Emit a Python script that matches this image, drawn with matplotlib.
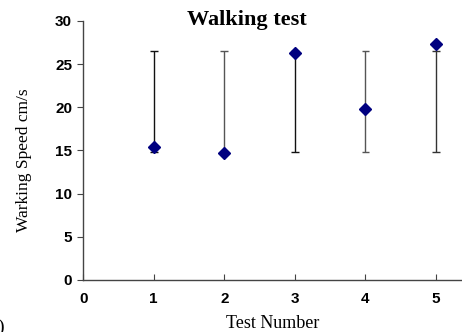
import matplotlib
matplotlib.use("Agg")
import matplotlib.pyplot as plt

# ----------------------------
# Data
# ----------------------------
tests = [1, 2, 3, 4, 5]
speed = [15.4, 14.7, 26.3, 19.8, 27.3]
range_low = [14.8, 14.8, 14.8, 14.8, 14.8]
range_high = [26.5, 26.5, 26.5, 26.5, 26.5]
bar_colors = ["#111111", "#555555", "#111111", "#555555", "#333333"]

x_ticks = [0, 1, 2, 3, 4, 5]
y_ticks = [0, 5, 10, 15, 20, 25, 30]

SERIF = ["Liberation Serif", "DejaVu Serif"]
SANS = ["Liberation Sans", "DejaVu Sans"]

# ----------------------------
# Figure
# ----------------------------
fig = plt.figure(figsize=(4.62, 3.32), dpi=100)
ax = fig.add_axes([0.18, 0.157, 0.82, 0.78])

# high-low range lines with caps
ax.vlines(tests, range_low, range_high, colors=bar_colors, linewidth=1.0, zorder=2)
ax.scatter(tests, range_low, marker="_", s=30, c=bar_colors, linewidths=1.0, zorder=2)
ax.scatter(tests, range_high, marker="_", s=30, c=bar_colors, linewidths=1.0, zorder=2)

# measured speeds
ax.plot(tests, speed, linestyle="none", marker="D", markersize=6.3,
        color="#000080", zorder=3)

ax.set_xlim(0, 5.37)
ax.set_ylim(0, 30)
ax.set_xticks(x_ticks)
ax.set_yticks(y_ticks)

for side in ["top", "right"]:
    ax.spines[side].set_visible(False)
for side in ["left", "bottom"]:
    ax.spines[side].set_color("#444444")
    ax.spines[side].set_linewidth(1.0)

ax.tick_params(axis="y", direction="out", length=4, color="#444444", pad=4)
ax.tick_params(axis="x", direction="in", length=4, color="#444444", pad=9)
for lbl in ax.get_xticklabels() + ax.get_yticklabels():
    lbl.set_fontfamily(SANS)
    lbl.set_fontweight("bold")
    lbl.set_fontsize(11)

fig.text(0.535, 0.925, "Walking test", fontfamily=SERIF, fontweight="bold",
         fontsize=16, ha="center", va="baseline")
ax.set_xlabel("Test Number", fontfamily=SERIF, fontsize=13)
ax.xaxis.set_label_coords(0.5, -0.135)
ax.set_ylabel("Warking Speed cm/s", fontfamily=SERIF, fontsize=12.5)
ax.yaxis.set_label_coords(-0.135, 0.463)

fig.text(-0.006, -0.012, ")", fontfamily=SERIF, fontsize=14, ha="left", va="bottom")

fig.savefig("out.png", dpi=100)
